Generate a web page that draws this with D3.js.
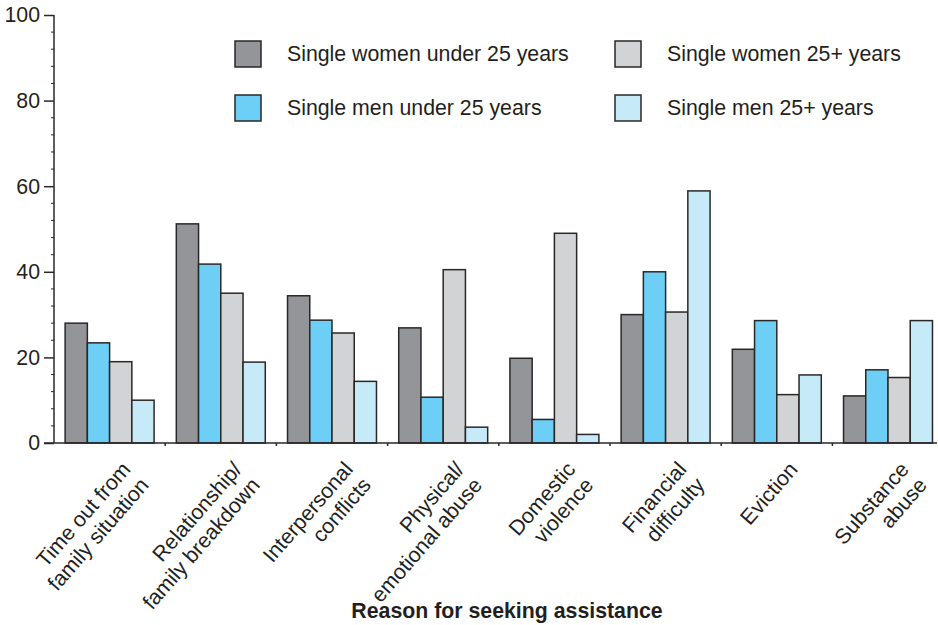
<!DOCTYPE html>
<html>
<head>
<meta charset="utf-8">
<script src="https://cdn.jsdelivr.net/npm/d3@7/dist/d3.min.js"></script>
<style>
  html, body { margin: 0; padding: 0; background: #fff; }
  svg { display: block; font-family: "Liberation Sans", Arial, Helvetica, sans-serif; }
</style>
</head>
<body>
<svg id="chart" width="938" height="625"></svg>
<script>
// Reasons for seeking assistance (percent of each group)
const categories = [
  ["Time out from", "family situation"],
  ["Relationship/", "family breakdown"],
  ["Interpersonal", "conflicts"],
  ["Physical/", "emotional abuse"],
  ["Domestic", "violence"],
  ["Financial", "difficulty"],
  ["Eviction"],
  ["Substance", "abuse"]
];
const seriesNames = [
  "Single women under 25 years",
  "Single men under 25 years",
  "Single women 25+ years",
  "Single men 25+ years"
];
const womenUnder25 = [28, 51.2, 34.4, 26.9, 19.8, 30, 21.9, 11];
const menUnder25   = [23.4, 41.8, 28.7, 10.7, 5.5, 40, 28.6, 17.1];
const women25plus  = [19, 35, 25.7, 40.5, 49, 30.6, 11.3, 15.3];
const men25plus    = [10, 18.9, 14.4, 3.7, 2, 58.9, 15.9, 28.6];
const yTicks = [0, 20, 40, 60, 80, 100];
const xTitle = "Reason for seeking assistance";

const seriesValues = [womenUnder25, menUnder25, women25plus, men25plus];
const colors = ["#939598", "#6dcff6", "#d1d3d4", "#c7eaf8"];
const strokeCol = "#2a2728";
const fontSize = 21.3;

const svg = d3.select("#chart");
const catKeys = categories.map(c => c.join(" "));

const x0 = d3.scaleBand().domain(catKeys).range([54, 943.6]).paddingInner(0.2).paddingOuter(0.1);
const x1 = d3.scaleBand().domain(d3.range(seriesNames.length)).range([0, x0.bandwidth()]);
const y = d3.scaleLinear().domain([0, 100]).range([443, 15]);

// bars
const groups = svg.append("g").selectAll("g")
  .data(catKeys)
  .join("g")
  .attr("transform", d => `translate(${x0(d)},0)`);

groups.selectAll("rect")
  .data((d, i) => seriesValues.map((s, j) => ({ j, v: s[i] })))
  .join("rect")
  .attr("x", d => x1(d.j))
  .attr("y", d => y(d.v))
  .attr("width", x1.bandwidth())
  .attr("height", d => y(0) - y(d.v))
  .attr("fill", d => colors[d.j])
  .attr("stroke", strokeCol)
  .attr("stroke-width", 1.5);

// y axis
const yAxis = svg.append("g").attr("transform", "translate(54,0)");
yAxis.call(d3.axisLeft(y).tickValues(yTicks).tickSize(10).tickPadding(4))
  .call(g => g.select(".domain").remove());
yAxis.selectAll(".tick line").attr("stroke", strokeCol).attr("stroke-width", 1.5);
yAxis.selectAll(".tick text")
  .attr("font-size", fontSize)
  .attr("fill", "#231f20")
  .attr("font-family", "Liberation Sans, Arial, sans-serif");
// minor ticks every 4 units
yAxis.append("g").selectAll("line")
  .data(d3.range(0, 101, 4).filter(v => v % 20 !== 0))
  .join("line")
  .attr("x1", -3).attr("x2", 0)
  .attr("y1", d => y(d)).attr("y2", d => y(d))
  .attr("stroke", strokeCol).attr("stroke-width", 1);
yAxis.append("line")
  .attr("x1", 0).attr("x2", 0).attr("y1", y(100)).attr("y2", y(0))
  .attr("stroke", strokeCol).attr("stroke-width", 1.5);

// x axis line and group separator ticks
svg.append("line")
  .attr("x1", 44).attr("x2", 937).attr("y1", y(0)).attr("y2", y(0))
  .attr("stroke", strokeCol).attr("stroke-width", 1.5);
svg.append("g").selectAll("line")
  .data(d3.range(1, catKeys.length))
  .join("line")
  .attr("x1", i => 54 + x0.step() * i).attr("x2", i => 54 + x0.step() * i)
  .attr("y1", y(0)).attr("y2", y(0) + 3)
  .attr("stroke", strokeCol).attr("stroke-width", 1.5);

// category labels, rotated
const lab = svg.append("g").selectAll("text")
  .data(categories)
  .join("text")
  .attr("transform", (d, i) => `translate(${x0(catKeys[i]) + x0.bandwidth() / 2 + 22},470) rotate(-49)`)
  .attr("text-anchor", "end")
  .attr("font-size", fontSize)
  .attr("fill", "#231f20");
lab.selectAll("tspan")
  .data(d => d)
  .join("tspan")
  .attr("x", 0)
  .attr("dy", (d, k) => k === 0 ? 0 : 24)
  .text(d => d);

// x axis title
svg.append("text")
  .attr("x", 507).attr("y", 618)
  .attr("text-anchor", "middle")
  .attr("font-size", fontSize)
  .attr("font-weight", "bold")
  .attr("fill", "#231f20")
  .text(xTitle);

// legend
const legendPos = [
  { x: 235, y: 41 }, { x: 235, y: 95 }, { x: 615, y: 41 }, { x: 615, y: 95 }
];
const leg = svg.append("g").selectAll("g")
  .data(seriesNames)
  .join("g")
  .attr("transform", (d, i) => `translate(${legendPos[i].x},${legendPos[i].y})`);
leg.append("rect")
  .attr("width", 26).attr("height", 26)
  .attr("fill", (d, i) => colors[i])
  .attr("stroke", strokeCol).attr("stroke-width", 1.5);
leg.append("text")
  .attr("x", 52).attr("y", 13)
  .attr("dy", "0.35em")
  .attr("font-size", fontSize)
  .attr("fill", "#231f20")
  .text(d => d);
</script>
</body>
</html>
